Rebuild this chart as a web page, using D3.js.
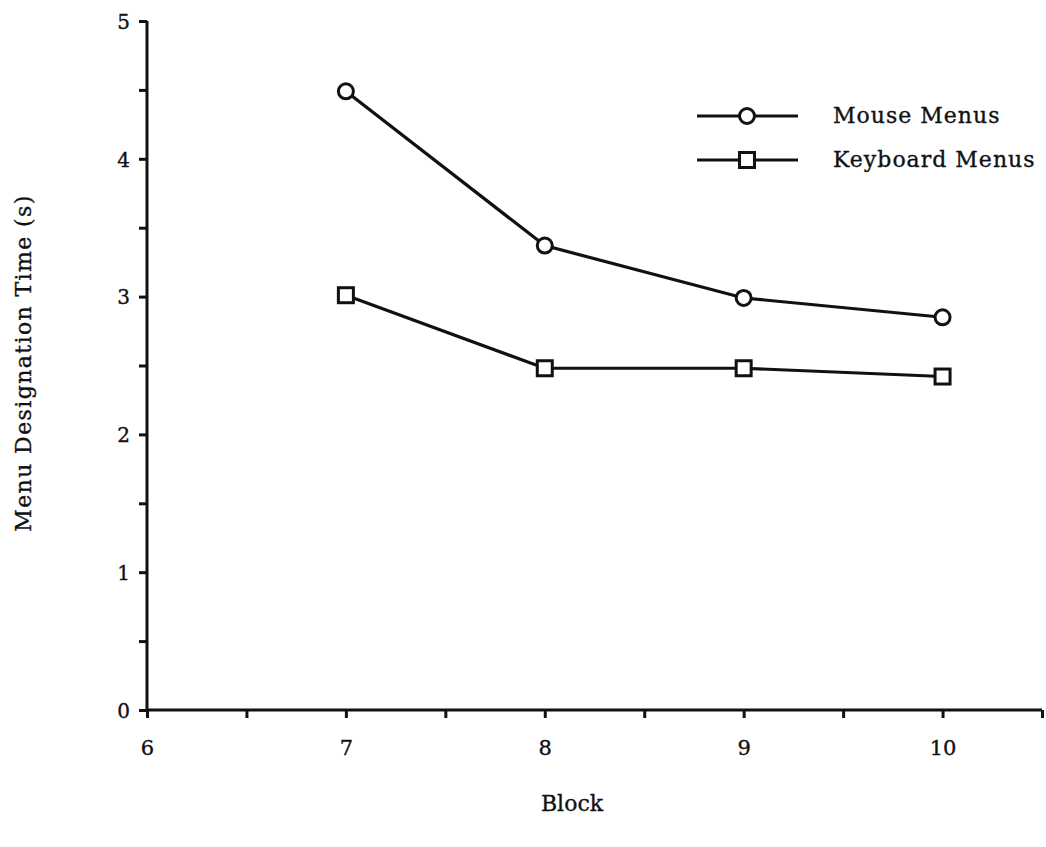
<!DOCTYPE html>
<html>
<head>
<meta charset="utf-8">
<script src="https://cdn.jsdelivr.net/npm/d3@7"></script>
<style>
  html, body { margin: 0; padding: 0; background: #fff; }
  svg { display: block; }
  text { font-family: "DejaVu Serif", "Liberation Serif", serif; fill: #111; stroke: #111; stroke-width: 0.35px; }
</style>
</head>
<body>
<svg id="chart" width="1046" height="847"></svg>
<script>
// Blocks and mean menu designation times (seconds)
const blocks = [7, 8, 9, 10];
const mouseTimes = [4.49, 3.37, 2.99, 2.85];
const keyboardTimes = [3.01, 2.48, 2.48, 2.42];
const seriesNames = ["Mouse Menus", "Keyboard Menus"];
const xTicks = [6, 7, 8, 9, 10];
const yTicks = [0, 1, 2, 3, 4, 5];

const svg = d3.select("#chart");
const ink = "#111";

const x = d3.scaleLinear().domain([6, 10.5]).range([147, 1042]);
const y = d3.scaleLinear().domain([0, 5]).range([710, 21]);

// y axis: labelled whole seconds plus minor ticks at the half-seconds
const yAxis = svg.append("g").attr("transform", `translate(${x(6)},0)`);
yAxis.call(d3.axisLeft(y).tickValues(d3.range(0, 5.01, 0.5)).tickSize(8)
  .tickFormat(d => yTicks.includes(d) ? d : ""));
yAxis.select(".domain").attr("d", `M0,${y(0)}V${y(5)}`).attr("stroke", ink).attr("stroke-width", 3);
yAxis.selectAll(".tick line").attr("stroke", ink).attr("stroke-width", 3);
yAxis.selectAll(".tick text").attr("x", -17).attr("dy", "0.36em")
  .style("font-size", "20px").style("font-family", "DejaVu Serif").attr("fill", ink);

// x axis: labelled blocks plus minor ticks at the half-blocks
const xAxis = svg.append("g").attr("transform", `translate(0,${y(0)})`);
xAxis.call(d3.axisBottom(x).tickValues(d3.range(6, 10.51, 0.5)).tickSize(8)
  .tickFormat(d => xTicks.includes(d) ? d : ""));
xAxis.select(".domain").attr("d", `M${x(6)},0H${x(10.5)}`).attr("stroke", ink).attr("stroke-width", 3);
xAxis.selectAll(".tick line").attr("stroke", ink).attr("stroke-width", 3);
xAxis.selectAll(".tick text").attr("y", 30)
  .style("font-size", "21px").style("font-family", "DejaVu Serif").attr("fill", ink);

// axis titles
svg.append("text")
  .attr("transform", `translate(31,${363}) rotate(-90)`)
  .attr("text-anchor", "middle")
  .style("font-size", "22px")
  .style("letter-spacing", "1.4px")
  .text("Menu Designation Time (s)");
svg.append("text")
  .attr("x", 572).attr("y", 811)
  .attr("text-anchor", "middle")
  .style("font-size", "22px")
  .text("Block");

const line = d3.line().x(d => x(d[0])).y(d => y(d[1]));
const mouseData = blocks.map((b, i) => [b, mouseTimes[i]]);
const keyData = blocks.map((b, i) => [b, keyboardTimes[i]]);

function drawMarker(g, shape, cx, cy) {
  if (shape === "circle") {
    g.append("circle").attr("cx", cx).attr("cy", cy).attr("r", 7.5)
      .attr("fill", "#fff").attr("stroke", ink).attr("stroke-width", 3);
  } else {
    g.append("rect").attr("x", cx - 7.5).attr("y", cy - 7.5)
      .attr("width", 15).attr("height", 15)
      .attr("fill", "#fff").attr("stroke", ink).attr("stroke-width", 3);
  }
}

function drawSeries(data, shape) {
  svg.append("path").datum(data)
    .attr("d", line).attr("fill", "none")
    .attr("stroke", ink).attr("stroke-width", 3.2);
  const g = svg.append("g");
  data.forEach(d => drawMarker(g, shape, x(d[0]), y(d[1])));
}
drawSeries(mouseData, "circle");
drawSeries(keyData, "square");

// legend
const legend = svg.append("g");
const legendRows = [{ name: seriesNames[0], shape: "circle", yPos: 116 },
                    { name: seriesNames[1], shape: "square", yPos: 160 }];
legendRows.forEach(r => {
  legend.append("line").attr("x1", 697).attr("x2", 798).attr("y1", r.yPos).attr("y2", r.yPos)
    .attr("stroke", ink).attr("stroke-width", 3.2);
  drawMarker(legend, r.shape, 747, r.yPos);
  legend.append("text").attr("x", 833).attr("y", r.yPos + 7)
    .style("font-size", "22px").style("letter-spacing", "1px").text(r.name);
});
</script>
</body>
</html>
